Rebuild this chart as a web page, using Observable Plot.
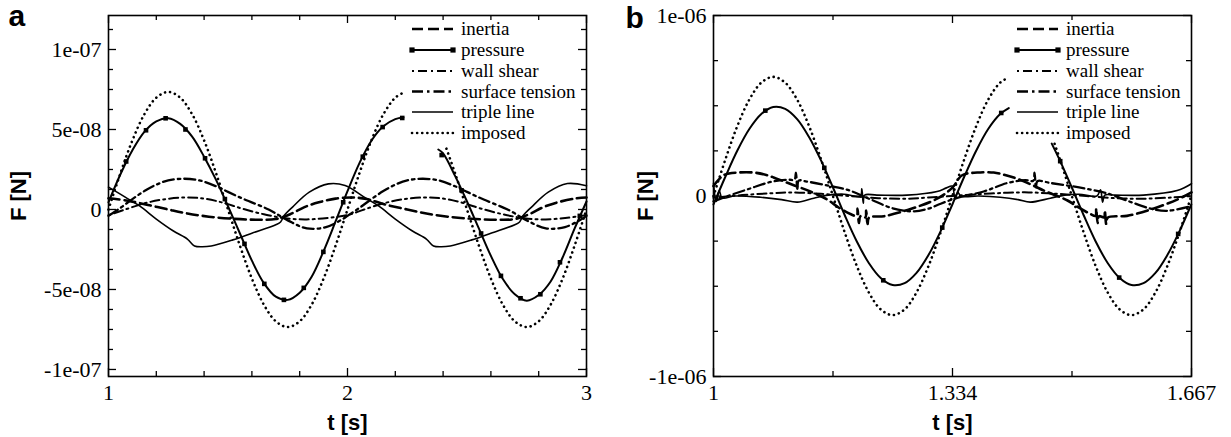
<!DOCTYPE html>
<html><head><meta charset="utf-8">
<script src="https://cdn.jsdelivr.net/npm/d3@7"></script>
<script src="https://cdn.jsdelivr.net/npm/@observablehq/plot@0.6"></script>
<style>
html,body{margin:0;padding:0;background:#fff;}
#wrap{display:flex;width:1231px;height:437px;overflow:hidden;}
</style></head><body><div id="wrap"></div>
<script>
// ---------------- DATA ----------------
const seriesNames = ["inertia","pressure","wall shear","surface tension","triple line","imposed"];

// Panel a: t [s], F in units of 1e-8 N ; null = hidden behind legend
const UNIT_A = 1e-8;
const imposedA = [[1.00,0],[1.05,2.27],[1.10,4.32],[1.15,5.95],[1.20,6.99],[1.25,7.35],[1.30,6.99],[1.35,5.95],[1.40,4.32],[1.45,2.27],[1.50,0],[1.55,-2.27],[1.60,-4.32],[1.65,-5.95],[1.70,-6.99],[1.75,-7.35],[1.80,-6.99],[1.85,-5.95],[1.90,-4.32],[1.95,-2.27],[2.00,0],[2.05,2.27],[2.10,4.32],[2.15,5.95],[2.20,6.99],[2.234,7.3],null,[2.414,3.8],[2.45,2.27],[2.50,0],[2.55,-2.27],[2.60,-4.32],[2.65,-5.95],[2.70,-6.99],[2.75,-7.35],[2.80,-6.99],[2.85,-5.95],[2.90,-4.32],[2.95,-2.27],[3.00,0]];
const pressureA = [[1.00,0.45],[1.05,2.2],[1.10,3.7],[1.15,4.85],[1.20,5.5],[1.25,5.7],[1.30,5.35],[1.35,4.55],[1.40,3.3],[1.45,1.85],[1.50,0.2],[1.55,-1.5],[1.60,-3.2],[1.65,-4.6],[1.70,-5.45],[1.75,-5.65],[1.80,-5.2],[1.85,-4.2],[1.90,-2.6],[1.95,-0.75],[2.00,1.15],[2.05,2.9],[2.10,4.3],[2.15,5.2],[2.20,5.65],[2.234,5.75],null,[2.38,3.75],[2.40,3.5],[2.45,2.1],[2.50,0.5],[2.55,-1.2],[2.60,-2.9],[2.65,-4.35],[2.70,-5.3],[2.75,-5.7],[2.80,-5.35],[2.85,-4.5],[2.90,-3.0],[2.95,-1.2],[3.00,0.5]];
const pressureMarkersA = [[1.074,3.0],[1.157,4.95],[1.239,5.7],[1.322,5.0],[1.404,3.2],[1.487,0.65],[1.569,-2.15],[1.652,-4.65],[1.734,-5.65],[1.817,-4.9],[1.899,-2.65],[1.982,0.45],[2.064,3.3],[2.147,5.15],[2.229,5.72],[2.394,3.4],[2.477,1.2],[2.559,-1.5],[2.642,-4.15],[2.724,-5.55],[2.807,-5.3],[2.889,-3.3],[2.972,-0.4]];
const tripleA = [[1.00,1.4],[1.07,0.77],[1.13,0.22],[1.20,-0.6],[1.27,-1.33],[1.33,-1.85],[1.343,-2.05],[1.36,-2.28],[1.39,-2.33],[1.43,-2.28],[1.52,-1.9],[1.60,-1.48],[1.70,-0.95],[1.72,-0.78],[1.735,-0.38],[1.77,0.15],[1.84,1.08],[1.92,1.6],[1.99,1.5],[2.07,0.77],[2.13,0.22],[2.20,-0.6],[2.27,-1.33],[2.33,-1.85],[2.343,-2.05],[2.36,-2.28],[2.39,-2.33],[2.43,-2.28],[2.52,-1.9],[2.60,-1.48],[2.70,-0.95],[2.72,-0.78],[2.735,-0.38],[2.77,0.15],[2.84,1.08],[2.92,1.62],[3.00,1.48]];
const inertiaA = [[1.00,0.7],[1.08,0.55],[1.16,0.3],[1.25,0.0],[1.33,-0.25],[1.42,-0.45],[1.52,-0.58],[1.62,-0.64],[1.70,-0.6],[1.76,-0.3],[1.82,0.15],[1.88,0.45],[1.95,0.68],[2.02,0.75],[2.08,0.65],[2.16,0.3],[2.25,0.0],[2.33,-0.25],[2.42,-0.45],[2.52,-0.58],[2.62,-0.64],[2.70,-0.6],[2.76,-0.3],[2.82,0.15],[2.88,0.45],[2.95,0.68],[3.00,0.75]];
const wallA = [[1.00,-0.35],[1.07,0.0],[1.15,0.38],[1.23,0.63],[1.32,0.75],[1.40,0.68],[1.48,0.42],[1.56,0.05],[1.65,-0.3],[1.74,-0.55],[1.83,-0.62],[1.92,-0.52],[2.00,-0.35],[2.07,0.0],[2.15,0.38],[2.23,0.63],[2.32,0.75],[2.40,0.68],[2.48,0.42],[2.56,0.05],[2.65,-0.3],[2.74,-0.55],[2.83,-0.62],[2.92,-0.52],[3.00,-0.35]];
const surfaceA = [[1.00,-0.4],[1.05,0.1],[1.10,0.65],[1.15,1.15],[1.20,1.55],[1.25,1.82],[1.315,1.92],[1.38,1.82],[1.45,1.45],[1.50,1.1],[1.57,0.62],[1.67,0.0],[1.75,-0.68],[1.83,-1.18],[1.91,-1.1],[1.98,-0.6],[2.00,-0.4],[2.05,0.1],[2.10,0.65],[2.15,1.15],[2.20,1.55],[2.25,1.82],[2.315,1.92],[2.38,1.82],[2.45,1.45],[2.50,1.1],[2.57,0.62],[2.67,0.0],[2.75,-0.68],[2.83,-1.18],[2.91,-1.1],[2.98,-0.6],[3.00,-0.4]];

// Panel b: t [s], F in units of 1e-7 N
const UNIT_B = 1e-7;
const imposedB = [[1.0,0],[1.0167,2.04],[1.0333,3.88],[1.05,5.34],[1.0667,6.28],[1.0833,6.6],[1.1,6.28],[1.1167,5.34],[1.1333,3.88],[1.15,2.04],[1.1667,0],[1.1833,-2.04],[1.2,-3.88],[1.2167,-5.34],[1.2333,-6.28],[1.25,-6.6],[1.2667,-6.28],[1.2833,-5.34],[1.3,-3.88],[1.3167,-2.04],[1.3333,0],[1.35,2.04],[1.3667,3.88],[1.3833,5.34],[1.4,6.28],[1.412,6.57],null,[1.476,2.89],[1.4833,2.04],[1.5,0],[1.5167,-2.04],[1.5333,-3.88],[1.55,-5.34],[1.5667,-6.28],[1.5833,-6.6],[1.6,-6.28],[1.6167,-5.34],[1.6333,-3.88],[1.65,-2.04],[1.6667,0]];
const pressureB = [[1.0,-0.47],[1.0167,1.08],[1.0333,2.52],[1.05,3.71],[1.0667,4.54],[1.0833,4.93],[1.1,4.83],[1.1167,4.26],[1.1333,3.27],[1.15,1.97],[1.1667,0.47],[1.1833,-1.08],[1.2,-2.52],[1.2167,-3.71],[1.2333,-4.54],[1.25,-4.93],[1.2667,-4.83],[1.2833,-4.26],[1.3,-3.27],[1.3167,-1.97],[1.3333,-0.47],[1.35,1.08],[1.3667,2.52],[1.3833,3.71],[1.4,4.54],[1.412,4.87],null,[1.472,2.9],[1.4833,1.97],[1.5,0.47],[1.5167,-1.08],[1.5333,-2.52],[1.55,-3.71],[1.5667,-4.54],[1.5833,-4.93],[1.6,-4.83],[1.6167,-4.26],[1.6333,-3.27],[1.65,-1.97],[1.6667,-0.47]];
const pressureMarkersB = [[1.0723,4.73],[1.1546,1.56],[1.2369,-4.67],[1.3192,-1.75],[1.4015,4.6],[1.4838,1.93],[1.5661,-4.52],[1.6484,-2.1]];
const inertiaB = [[1.0,0.55],[1.014,1.15],[1.035,1.3],[1.056,1.3],[1.075,1.15],[1.089,0.95],[1.112,0.6],[1.135,0.25],[1.159,-0.2],[1.175,-0.65],[1.191,-1.0],[1.2,-1.1],[1.201,-0.7],[1.203,-1.5],[1.205,-1.12],[1.212,-1.18],[1.213,-0.8],[1.215,-1.55],[1.217,-1.2],[1.238,-1.12],[1.275,-0.72],[1.312,-0.15],[1.333,0.45],[1.347,1.15],[1.368,1.3],[1.391,1.3],[1.408,1.15],[1.424,0.95],[1.445,0.6],[1.461,0.3],[1.494,-0.25],[1.51,-0.65],[1.526,-1.0],[1.533,-1.1],[1.534,-0.7],[1.536,-1.5],[1.538,-1.12],[1.545,-1.18],[1.546,-0.8],[1.548,-1.55],[1.55,-1.2],[1.577,-1.1],[1.61,-0.75],[1.647,-0.2],[1.667,0.2]];
const wallB = [[1.0,-0.1],[1.04,0.05],[1.08,0.15],[1.11,0.2],[1.15,0.12],[1.19,0.0],[1.23,-0.12],[1.27,-0.15],[1.30,-0.08],[1.333,0.0],[1.37,0.1],[1.41,0.18],[1.44,0.2],[1.48,0.12],[1.52,0.0],[1.56,-0.12],[1.60,-0.15],[1.64,-0.08],[1.667,0.0]];
const surfaceB = [[1.0,-0.3],[1.02,0.0],[1.05,0.4],[1.08,0.78],[1.105,0.9],[1.113,0.9],[1.115,1.3],[1.117,0.4],[1.119,0.85],[1.13,0.8],[1.16,0.58],[1.19,0.3],[1.22,-0.2],[1.25,-0.68],[1.28,-0.85],[1.30,-0.7],[1.317,-0.43],[1.34,-0.1],[1.377,0.25],[1.41,0.72],[1.435,0.88],[1.446,0.84],[1.448,1.3],[1.45,0.4],[1.452,0.82],[1.47,0.72],[1.494,0.58],[1.52,0.4],[1.549,0.15],[1.58,-0.3],[1.61,-0.7],[1.633,-0.82],[1.667,-0.55]];
const tripleB = [[1.0,0.7],[1.004,-0.3],[1.008,0.3],[1.012,-0.1],[1.03,0.0],[1.066,-0.07],[1.095,-0.2],[1.117,-0.34],[1.14,-0.12],[1.16,0.05],[1.182,0.1],[1.205,0.0],[1.207,0.4],[1.209,-0.4],[1.211,0.05],[1.228,0.05],[1.27,0.05],[1.312,0.25],[1.325,0.45],[1.333,0.55],[1.337,-0.1],[1.341,0.2],[1.345,0.0],[1.37,0.0],[1.40,-0.07],[1.425,-0.2],[1.442,-0.34],[1.47,-0.12],[1.49,0.05],[1.51,0.1],[1.535,0.0],[1.54,0.35],[1.543,-0.35],[1.546,0.05],[1.56,0.05],[1.60,0.05],[1.647,0.3],[1.667,0.68]];

// Tick values and labels
const xTicksA = [1,2,3], xTickLabelsA = ["1","2","3"];
const xMinorA = [1.2,1.4,1.6,1.8,2.2,2.4,2.6,2.8];
const yTicksA = [-1e-7,-5e-8,0,5e-8,1e-7], yTickLabelsA = ["-1e-07","-5e-08","0","5e-08","1e-07"];
const yMinorA = [-8.75e-8,-7.5e-8,-6.25e-8,-3.75e-8,-2.5e-8,-1.25e-8,1.25e-8,2.5e-8,3.75e-8,6.25e-8,7.5e-8,8.75e-8,1.125e-7];
const xTicksB = [1,1.3335,1.667], xTickLabelsB = ["1","1.334","1.667"];
const xMinorB = [1.16675,1.50025];
const yTicksB = [-1e-6,0,1e-6], yTickLabelsB = ["-1e-06","0","1e-06"];
const yMinorB = [-7.5e-7,-5e-7,-2.5e-7,2.5e-7,5e-7,7.5e-7];

// ---------------- STYLE ----------------
const lineStyles = {
  "inertia": {strokeWidth: 2.6, strokeDasharray: "11,5"},
  "pressure": {strokeWidth: 2},
  "wall shear": {strokeWidth: 2, strokeDasharray: "2,4,9,4"},
  "surface tension": {strokeWidth: 2.3, strokeDasharray: "11,4,2.5,4"},
  "triple line": {strokeWidth: 1.6},
  "imposed": {strokeWidth: 2.6, strokeDasharray: "0.1,5", strokeLinecap: "round"}
};
const legendRowsY = [14, 35, 56, 76.5, 97, 118]; // offsets from frame top
const serif = "'Liberation Serif', 'Times New Roman', serif";

function rows(pairs, unit) {
  return pairs.map(p => p === null ? {t: NaN, v: NaN} : {t: p[0], v: p[1] * unit});
}

function panel(cfg) {
  const W = cfg.width - cfg.ml - cfg.mr;
  const H = 437 - cfg.mt - cfg.mb;
  const fmtMap = new Map(cfg.yTicks.map((d, i) => [d, cfg.yLabels[i]]));
  const fmtMapX = new Map(cfg.xTicks.map((d, i) => [d, cfg.xLabels[i]]));
  const majLen = 8, minLen = 5;
  const marks = [];
  for (const [vals, len] of [[cfg.yTicks, majLen], [cfg.yMinor, minLen]]) {
    marks.push(Plot.tickY(vals, {y: d => d, insetRight: W - len, stroke: "black", strokeWidth: 1.3}));
    marks.push(Plot.tickY(vals, {y: d => d, insetLeft: W - len, stroke: "black", strokeWidth: 1.3}));
  }
  for (const [vals, len] of [[cfg.xTicks, majLen], [cfg.xMinor, minLen]]) {
    marks.push(Plot.tickX(vals, {x: d => d, insetTop: H - len, stroke: "black", strokeWidth: 1.3}));
    marks.push(Plot.tickX(vals, {x: d => d, insetBottom: H - len, stroke: "black", strokeWidth: 1.3}));
  }
  const order = ["imposed","wall shear","surface tension","inertia","triple line","pressure"];
  for (const name of order) {
    marks.push(Plot.line(rows(cfg.series[name], cfg.unit), {x: "t", y: "v", curve: "catmull-rom", stroke: "black", strokeLinejoin: "round", ...lineStyles[name]}));
  }
  marks.push(Plot.dot(rows(cfg.markers, cfg.unit), {x: "t", y: "v", symbol: "square", r: 2.6, fill: "black", stroke: null}));
  marks.push(Plot.frame({stroke: "black", strokeWidth: 1.6}));
  marks.push(Plot.axisY(cfg.yTicks, {tickSize: 0, tickPadding: 7, tickFormat: d => fmtMap.get(d), label: null, fontSize: 22}));
  marks.push(Plot.axisX(cfg.xTicks, {tickSize: 0, tickPadding: 8, tickFormat: d => fmtMapX.get(d), label: null, fontSize: 22}));
  marks.push(Plot.text(["F [N]"], {text: d => d, frameAnchor: "left", dx: cfg.ylabDx, rotate: -90, textAnchor: "middle", lineAnchor: "middle", fontFamily: "Liberation Sans", fontWeight: "bold", fontSize: 22}));
  marks.push(Plot.text(["t [s]"], {text: d => d, frameAnchor: "bottom", dy: 46, textAnchor: "middle", lineAnchor: "middle", fontFamily: "Liberation Sans", fontWeight: "bold", fontSize: 22}));
  marks.push(Plot.text([cfg.letter], {text: d => d, frameAnchor: "top-left", dx: cfg.letterDx, dy: cfg.letterDy, textAnchor: "start", lineAnchor: "bottom", fontFamily: "Liberation Sans", fontWeight: "bold", fontSize: 30}));

  const svg = Plot.plot({
    width: cfg.width, height: 437,
    marginLeft: cfg.ml, marginRight: cfg.mr, marginTop: cfg.mt, marginBottom: cfg.mb,
    x: {domain: cfg.xDomain},
    y: {domain: cfg.yDomain},
    style: {fontFamily: serif, fontSize: "22px", color: "black", background: "white", overflow: "visible"},
    marks
  });

  // legend (top-right inside the frame)
  const g = d3.select(svg).append("g")
    .attr("font-family", serif).attr("text-anchor", "start")
    .attr("font-size", 19).attr("fill", "black");
  seriesNames.forEach((name, i) => {
    const st = lineStyles[name];
    const y = cfg.mt + legendRowsY[i];
    const x1 = cfg.ml + 304, x2 = cfg.ml + 345;
    g.append("line").attr("x1", x1).attr("x2", x2).attr("y1", y).attr("y2", y)
      .attr("stroke", "black").attr("stroke-width", st.strokeWidth)
      .attr("stroke-dasharray", st.strokeDasharray || null)
      .attr("stroke-linecap", st.strokeLinecap || null);
    if (name === "pressure") {
      for (const x of [x1, x2]) g.append("rect").attr("x", x - 2.6).attr("y", y - 2.6).attr("width", 5.2).attr("height", 5.2).attr("fill", "black");
    }
    g.append("text").attr("x", cfg.ml + 353).attr("y", y).attr("dy", "0.32em").attr("text-anchor", "start").text(name);
  });
  return svg;
}

const wrap = document.getElementById("wrap");
wrap.appendChild(panel({
  letter: "a", letterDx: -100, letterDy: 10, ylabDx: -90,
  width: 605, ml: 108, mr: 19, mt: 15, mb: 61,
  xDomain: [1, 3], yDomain: [-1.044e-7, 1.2125e-7], unit: UNIT_A,
  xTicks: xTicksA, xLabels: xTickLabelsA, xMinor: xMinorA,
  yTicks: yTicksA, yLabels: yTickLabelsA, yMinor: yMinorA,
  series: {"inertia": inertiaA, "pressure": pressureA, "wall shear": wallA, "surface tension": surfaceA, "triple line": tripleA, "imposed": imposedA},
  markers: pressureMarkersA
}));
wrap.appendChild(panel({
  letter: "b", letterDx: -88, letterDy: 12, ylabDx: -68,
  width: 626, ml: 108, mr: 40, mt: 15, mb: 61,
  xDomain: [1, 1.667], yDomain: [-1e-6, 1e-6], unit: UNIT_B,
  xTicks: xTicksB, xLabels: xTickLabelsB, xMinor: xMinorB,
  yTicks: yTicksB, yLabels: yTickLabelsB, yMinor: yMinorB,
  series: {"inertia": inertiaB, "pressure": pressureB, "wall shear": wallB, "surface tension": surfaceB, "triple line": tripleB, "imposed": imposedB},
  markers: pressureMarkersB
}));
</script></body></html>
